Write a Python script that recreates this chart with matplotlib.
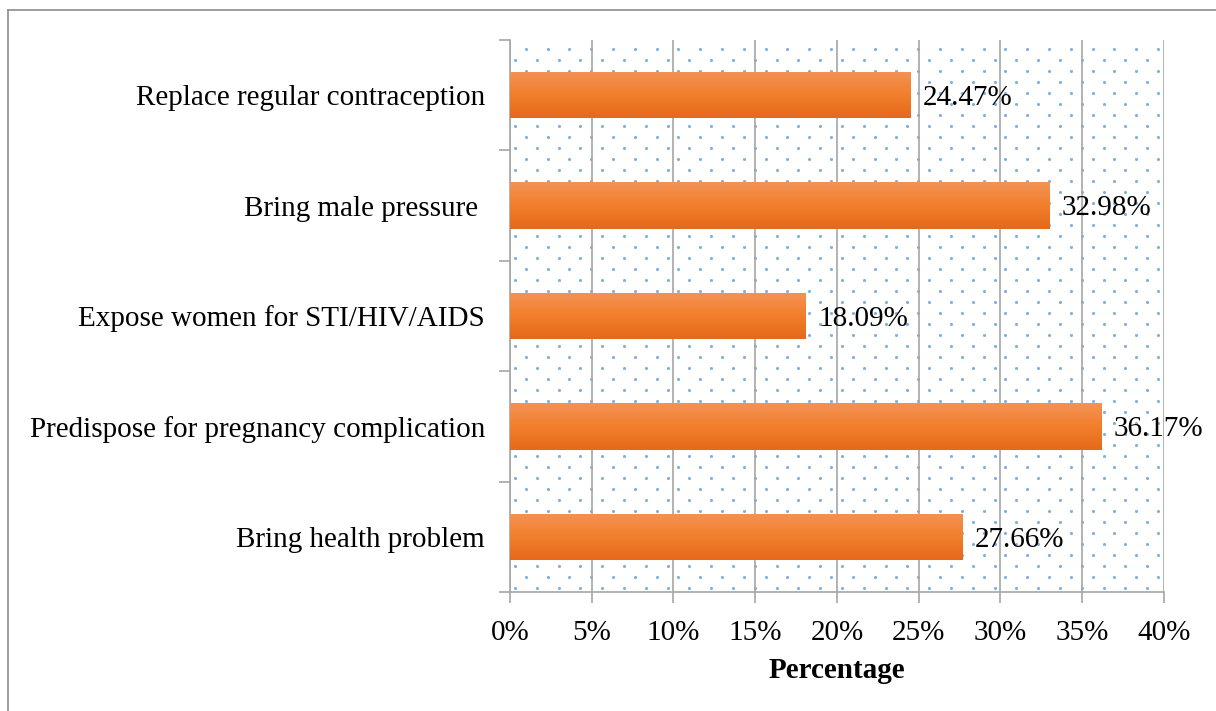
import numpy as np
import matplotlib
matplotlib.use("Agg")
import matplotlib.pyplot as plt
from matplotlib.lines import Line2D
from matplotlib.ticker import MultipleLocator, FuncFormatter

plt.rcParams["font.family"] = ["Liberation Serif", "DejaVu Serif"]

categories = [
    "Bring health problem",
    "Predispose for pregnancy complication",
    "Expose women for STI/HIV/AIDS",
    "Bring male pressure ",
    "Replace regular contraception",
]
values = [27.66, 36.17, 18.09, 32.98, 24.47]

fig = plt.figure(figsize=(12.16, 7.11), dpi=100)
ax = fig.add_axes([0.4194, 0.1674, 0.5378, 0.7763])

ax.set_xlim(0, 40)
ax.set_ylim(-0.5, len(categories) - 0.5)

# dotted background
pw, ph = 654.0, 552.0
dx, dy = 21.8, 11.0
xs, ys = [], []
for r, yy in enumerate(np.arange(4, ph, dy)):
    off = 5 if r % 2 == 0 else 5 + dx / 2
    for xx in np.arange(off, pw, dx):
        xs.append(xx / pw)
        ys.append(yy / ph)
ax.scatter(xs, ys, s=5, color="#7eb0e2", linewidths=0, transform=ax.transAxes, zorder=0)

ax.grid(axis="x", color="#a6a6a6", linewidth=1.2, zorder=1)
ax.set_axisbelow(True)

bars = ax.barh(range(len(categories)), values, height=0.42, color="#ed7d31", zorder=2)

# vertical gradient on each bar
grad = np.linspace(0, 1, 64).reshape(-1, 1)
cmap = matplotlib.colors.LinearSegmentedColormap.from_list(
    "og", ["#e4691c", "#f27f2b", "#f39256"])
for b in bars:
    x0, y0 = b.get_x(), b.get_y()
    w, h = b.get_width(), b.get_height()
    im = ax.imshow(grad, extent=(x0, x0 + w, y0, y0 + h), origin="lower",
                   aspect="auto", cmap=cmap, zorder=3)
    im.set_clip_path(b)

for i, v in enumerate(values):
    ax.annotate(f"{v:.2f}%", (v, i), xytext=(9, -2), textcoords="offset points",
                va="center", ha="left", fontsize=21, zorder=4)

ax.set_yticks(range(len(categories)))
ax.set_yticklabels(categories, fontsize=21)
ax.set_yticks(np.arange(-0.5, len(categories), 1), minor=True)
ax.tick_params(axis="y", which="major", length=0, pad=18)
ax.tick_params(axis="y", which="minor", length=8, color="#a6a6a6", width=1.2)

ax.xaxis.set_major_locator(MultipleLocator(5))
ax.xaxis.set_major_formatter(FuncFormatter(lambda x, p: f"{x:.0f}%"))
ax.tick_params(axis="x", length=8, color="#a6a6a6", width=1.2, labelsize=21, pad=12)
ax.set_xlabel("Percentage", fontsize=21, fontweight="bold", labelpad=8)

ax.spines["top"].set_visible(False)
ax.spines["right"].set_visible(False)
for s in ("left", "bottom"):
    ax.spines[s].set_color("#a6a6a6")
    ax.spines[s].set_linewidth(1.2)

# outer chart border (left and top visible)
fx0, fy1 = 8 / 1216, 1 - 10 / 711
fig.add_artist(Line2D([fx0, fx0], [0, fy1], color="#8c8c8c", linewidth=1.2))
fig.add_artist(Line2D([fx0, 1], [fy1, fy1], color="#8c8c8c", linewidth=1.2))

fig.savefig("out.png", dpi=100)
